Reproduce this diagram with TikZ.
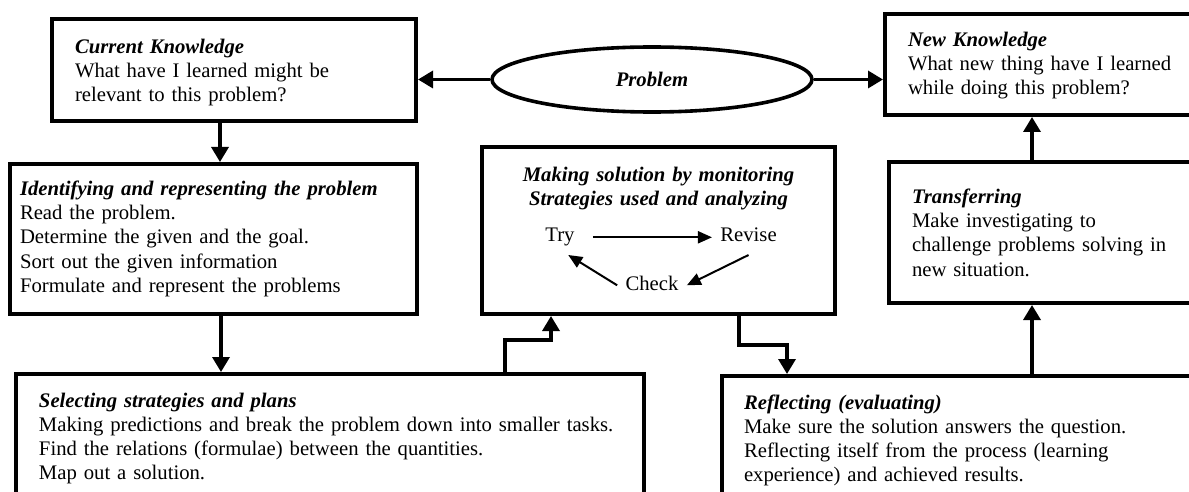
\documentclass[tikz,border=0pt]{standalone}
\usepackage{fontspec}
\setmainfont{Liberation Serif}
\usetikzlibrary{positioning, shapes.geometric, arrows.meta}

\newcommand{\stagetitle}[1]{{\bfseries\itshape #1}}

\tikzset{
  stage/.style={draw, line width=2pt, anchor=north west, inner xsep=11.5pt, inner ysep=0pt, align=left},
  flow/.style={line width=1.7pt, -{Triangle[length=7.5pt, width=8.5pt]}},
  loopflow/.style={line width=1pt, -{Triangle[length=7pt, width=6pt]}},
  loopword/.style={inner sep=4pt, text height=7pt, text depth=2.3pt}
}

\begin{document}
\begin{tikzpicture}[x=0.5pt, y=-0.5pt, font=\fontsize{10.35pt}{12pt}\selectfont]
\useasboundingbox (0,0) rectangle (1189,492);
\clip (0,0) rectangle (1189,492);

% top row
\node[stage, text width=159pt, text height=17.5pt, text depth=33.5pt] (cur) at (50,17)
  {\stagetitle{Current Knowledge}\\ What have I learned might be\\ relevant to this problem?};
\node[draw, ellipse, line width=1.8pt, minimum width=160pt, minimum height=32.5pt, inner sep=0pt] (prob) at (652,79.5)
  {\stagetitle{Problem}};
\node[stage, text width=155.5pt, text height=16.5pt, text depth=34pt] (new) at (883,12)
  {\stagetitle{New Knowledge}\\ What new thing have I learned\\ while doing this problem?};

% middle row
\node[stage, inner xsep=5pt, text width=193.5pt, text height=16pt, text depth=59pt] (ident) at (8,162)
  {\stagetitle{Identifying and representing the problem}\\ Read the problem.\\ Determine the given and the goal.\\ Sort out the given information\\ Formulate and represent the problems};
\node[draw, line width=2pt, anchor=north west, minimum width=176.5pt, minimum height=83.5pt, inner sep=0pt] (mon) at (480,145) {};
\node[text width=170pt, align=center, anchor=base] (montitle) at ([yshift=-18.5pt]mon.north)
  {\stagetitle{Making solution by monitoring}\\ \stagetitle{Strategies used and analyzing}};
\node[loopword] (try) at (560,237.3) {Try};
\node[loopword, right=64.5pt of try] (revise) {Revise};
\node[loopword] (check) at (652,285.3) {Check};
\node[stage, text width=153.5pt, text height=21pt, text depth=49.5pt] (trans) at (887,160)
  {\stagetitle{Transferring}\\ Make investigating to\\ challenge problems solving in\\ new situation.};

% bottom row
\node[stage, text width=291pt, text height=16.5pt, text depth=120pt] (sel) at (14,372)
  {\stagetitle{Selecting strategies and plans}\\ Making predictions and break the problem down into smaller tasks.\\ Find the relations (formulae) between the quantities.\\ Map out a solution.};
\node[stage, inner xsep=11pt, text width=238pt, text height=16.5pt, text depth=120pt] (refl) at (720,374)
  {\stagetitle{Reflecting (evaluating)}\\ Make sure the solution answers the question.\\ Reflecting itself from the process (learning\\ experience) and achieved results.};

% arrows
\draw[flow] (prob.west) -- (prob.west -| cur.east);
\draw[flow] (prob.east) -- (prob.east -| new.west);

\coordinate (curout) at ([xshift=-7pt]cur.south);
\draw[flow] (curout) -- (curout |- ident.north);
\coordinate (identout) at ([xshift=3.75pt]ident.south);
\draw[flow] (identout) -- (identout |- sel.north);

\draw[flow] ([xshift=87.5pt]sel.north) -- ++(0,-32) -| ([xshift=-53.75pt]mon.south);
\draw[flow] ([xshift=40.25pt]mon.south) -- ++(0,29) -| ([xshift=33.5pt]refl.north west);

\coordinate (tx) at ([xshift=72.5pt]trans.north west);
\draw[flow] (tx |- refl.north) -- (tx |- trans.south);
\draw[flow] (tx) -- (tx |- new.south);

% try / revise / check loop
\draw[loopflow, shorten <=5pt] (try) -- (revise);
\draw[loopflow] (revise.south) -- (check.east);
\draw[loopflow] (check.west) -- (try.-65);
\end{tikzpicture}
\end{document}
